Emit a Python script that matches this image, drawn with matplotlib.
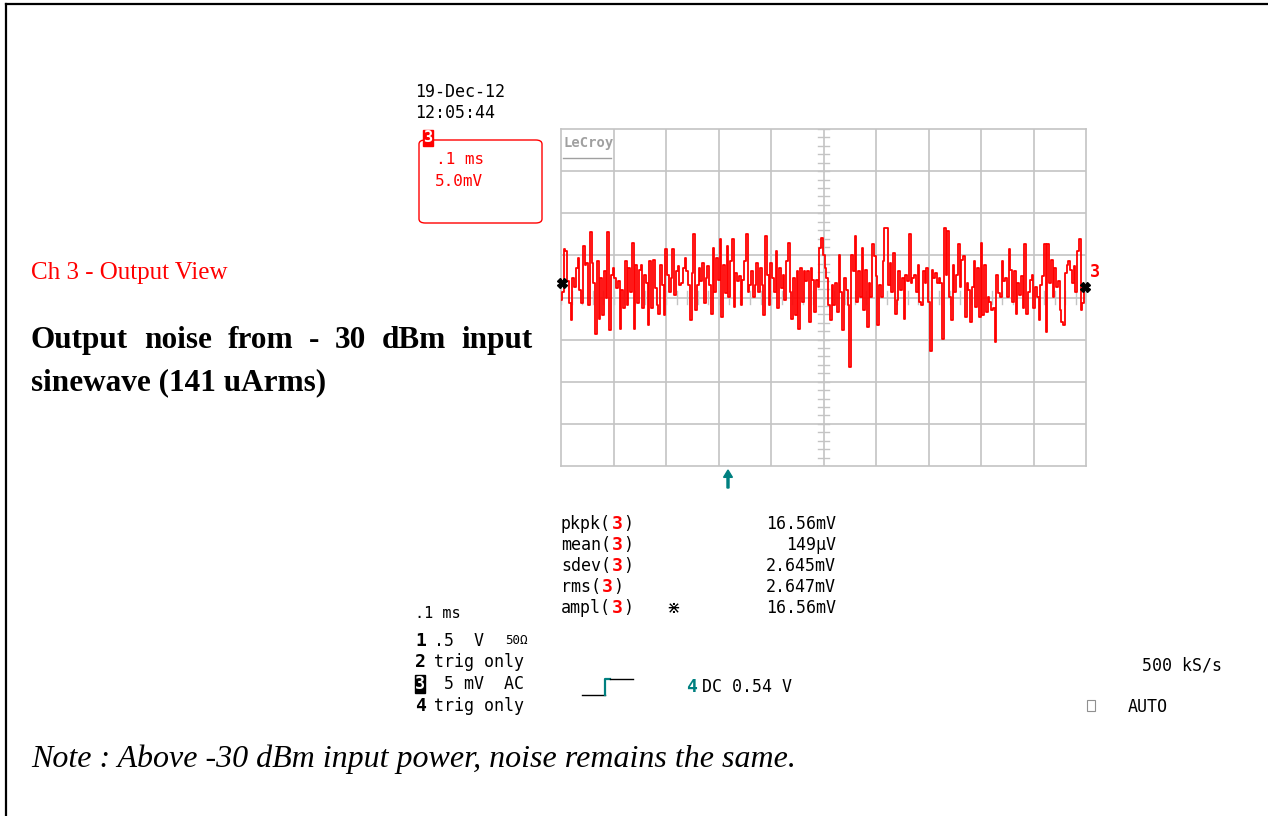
import numpy as np
import matplotlib
matplotlib.use('Agg')
import matplotlib.pyplot as plt
from matplotlib.patches import FancyBboxPatch, Rectangle, FancyArrow
from matplotlib.lines import Line2D

W, H = 1268, 816

# trace samples, in mV relative to screen centre (5 mV/div)
seg1 = [-0.3, 0.7, 5.7, 5.5, 1.9, -0.7, -2.7, 2.3, 1.3, 3.5, 4.7, 0.9, -0.7, 6.1, 3.9, 4.1,
        -0.9, 7.8, 4.1, 1.7, -4.3, 4.3, -2.5, 2.3, -2.1, 3.1, -0.1, 7.8, -3.9, 2.7, 3.5, 2.3,
        1.1, 1.9, -3.7, 0.9, -1.3, 4.3, -0.9, 3.5, 0.7, 6.5, -3.7, 3.9, -0.7, 3.3, 3.9, -1.3,
        2.7, 1.7, -3.3, 4.3, -1.3, 4.5, 1.1, -0.9, -1.9, 3.9, 1.5, -2.1, 5.7, 2.7, 0.7, 2.3,
        5.7, 0.3, 3.1, 3.7, 1.5]
seg2 = [1.7, 3.5, 4.7, 3.1, 1.5, -2.7, 2.9, 7.5, -1.5, 1.5, 3.5, 1.9, 4.1, -0.7, 2.3, 3.7,
        1.5, -1.9, 5.9, 0.7, 4.7, 2.1, 6.9, -2.3, 3.9, 0.5, 6.1, 0.1, 4.3, 6.9, -1.1, 2.9,
        1.9, 2.5, -0.9, 2.1, 4.3, 7.5, 0.7, 1.5, 3.1, 0.1, 1.5, 4.1, 0.7, 3.5, 1.5, -2.1,
        7.3, 2.7, -0.9, 4.1, 2.3, 0.7, 5.5, -1.3, 3.5, 1.1, 2.7, -0.3, 4.3, 6.5, 0.7, -2.5,
        2.3, -2.1, 3.1, -3.7, 3.5, -0.5, 3.1, 1.9]
seg3 = [3.1, -2.9, 3.5, 2.1, -1.7, 2.1, 1.3, 5.9, 7.1, 5.1, 3.5, 2.3, -0.9, -2.7, 1.5, -0.9,
        1.7, -1.7, 5.1, 0.7, -3.9, 2.3, 0.9, -0.9, -8.3, 5.1, 3.1, 7.3, -0.5, 3.1, 0.1, 5.9,
        -1.5, 3.3, -3.5, 1.7, 0.1, 6.3, 4.9, 2.5, -3.3, 1.5, 0.1, 4.3, 8.2, 8.3, 1.5, 4.1,
        0.7, 5.3, -1.9, -0.3, 3.1, 0.9, 2.3, -2.5, 2.7, 1.9, 7.5, 1.7, 2.3, 2.7, 0.7, 3.9,
        -0.5, -0.9, 3.1, 1.7, 3.5, -0.5, -6.3, 3.3, 2.3, 2.9, 1.7, 2.3, 1.7, -4.9, 8.3, 2.7]
seg4 = [7.9, 0.1, -2.7, 3.9, 0.7, 2.7, 6.3, 1.3, 4.5, 4.9, -2.3, 1.7, 0.9, -2.9, 1.3, 4.3,
        -1.1, 3.5, -2.3, 6.5, -2.1, 3.9, -1.7, 0.1, -0.5, -1.5, -1.3, -5.3, 2.7, 0.5, 0.1, 4.3,
        1.9, 2.3, 0.1, 5.7, 3.3, -0.5, 3.1, -1.9, 1.7, 0.3, 2.5, -1.3, 6.3, -1.9, 0.7, 2.1,
        2.7, -1.3, 1.3, 0.1, -2.7, 1.5, 2.5, 6.3, -4.1, 6.3, 1.7, 4.5, 0.1, 3.5, 1.3, 1.9,
        -1.5, -2.9, -3.3, 2.9, 3.9, 4.3, 3.3, 1.7, 3.7, 0.7, 5.5, 6.9, -1.5, -0.7, 1.3]
trace_mv = seg1 + seg2 + seg3 + seg4

meas_names = ['pkpk', 'mean', 'sdev', 'rms', 'ampl']
meas_values = ['16.56mV', '149µV', '2.645mV', '2.647mV', '16.56mV']

chan_ids = ['1', '2', '3', '4']
chan_text = [' .5  V', ' trig only', '  5 mV  AC', ' trig only']

volts_per_div = 5.0
n_xdiv, n_ydiv = 10, 8

MONO = 'DejaVu Sans Mono'
SERIF = 'Liberation Serif'
TEAL = '#008080'
GRID = '#c4c4c4'


def fx(x):
    return x / W


def fy(y):
    return 1 - y / H


fig = plt.figure(figsize=(W / 100, H / 100), dpi=100)

# outer frame (only left and top edges fall inside the image)
fig.add_artist(Line2D([fx(6), fx(6)], [fy(4), 0], color='black', lw=1.6))
fig.add_artist(Line2D([fx(6), 1], [fy(4), fy(4)], color='black', lw=1.6))

# scope graticule
ax = fig.add_axes([fx(561), fy(466), (1086 - 561) / W, (466 - 129) / H])
ax.set_xlim(0, n_xdiv)
ax.set_ylim(-volts_per_div * n_ydiv / 2, volts_per_div * n_ydiv / 2)
ax.set_xticks([])
ax.set_yticks([])
for s in ax.spines.values():
    s.set_color(GRID)
    s.set_linewidth(1.2)
for i in range(1, n_xdiv):
    ax.axvline(i, color=GRID, lw=1.2, zorder=1)
for j in range(1, n_ydiv):
    ax.axhline(-20 + j * volts_per_div, color=GRID, lw=1.2, zorder=1)
# minor ticks on the centre cross
for k in range(n_xdiv * 5 + 1):
    xv = k / 5
    ax.plot([xv, xv], [-0.8, 0.8], color=GRID, lw=1.0, zorder=1)
for k in range(n_ydiv * 5 + 1):
    yv = -20 + k * 1.0
    ax.plot([4.89, 5.11], [yv, yv], color=GRID, lw=1.0, zorder=1)

t = np.linspace(0, n_xdiv - 0.02, len(trace_mv))
ax.plot(t, trace_mv, color='red', lw=1.3, drawstyle='steps-mid', zorder=3)

# ground / channel markers
ax.plot([0.02], [1.75], marker='X', color='black', markersize=7, clip_on=False, zorder=4)
ax.plot([9.98], [1.3], marker='X', color='black', markersize=7, clip_on=False, zorder=4)
ax.text(10.08, 3.0, '3', color='red', fontsize=12, fontweight='bold', family=MONO,
        ha='left', va='center', clip_on=False)

ax.text(0.04, 19.2, 'LeCroy', color='#a0a0a0', fontsize=10, fontweight='bold',
        family=MONO, ha='left', va='top')
ax.plot([0.04, 0.95], [16.6, 16.6], color='#a0a0a0', lw=1.0)

# trigger arrow under the graticule
fig.add_artist(FancyArrow(fx(728), fy(488), 0, 18 / H,
                          width=0.0016, head_width=0.007, head_length=0.009,
                          color=TEAL, length_includes_head=True,
                          transform=fig.transFigure))

# date / time
fig.text(fx(415), fy(92), '19-Dec-12', family=MONO, fontsize=12, va='center')
fig.text(fx(415), fy(113), '12:05:44', family=MONO, fontsize=12, va='center')

# channel 3 box
box = FancyBboxPatch((fx(419), fy(223)), (542 - 419) / W, (223 - 140) / H,
                     boxstyle='round,pad=0,rounding_size=0.005', transform=fig.transFigure,
                     fill=False, edgecolor='red', lw=1.0)
fig.add_artist(box)
fig.text(fx(428), fy(138), '3', family=MONO, fontsize=11, fontweight='bold', color='white',
         ha='center', va='center',
         bbox=dict(boxstyle='square,pad=0.05', facecolor='red', edgecolor='red'))
fig.text(fx(436), fy(160), '.1 ms', family=MONO, fontsize=11.5, color='red', va='center')
fig.text(fx(435), fy(182), '5.0mV', family=MONO, fontsize=11.5, color='red', va='center')

# left side captions
fig.text(fx(31), fy(273), 'Ch 3 - Output View', family=SERIF, fontsize=18, color='red',
         va='center')

renderer = fig.canvas.get_renderer()
words = ['Output', 'noise', 'from', '-', '30', 'dBm', 'input']
wtexts = [fig.text(0, fy(340), w, family=SERIF, fontsize=22.5, fontweight='bold', va='center')
          for w in words]
widths = [tt.get_window_extent(renderer).width for tt in wtexts]
gap = (533 - 31 - sum(widths)) / (len(words) - 1)
xpos = 31
for tt, wd in zip(wtexts, widths):
    tt.set_x(fx(xpos))
    xpos += wd + gap
fig.text(fx(31), fy(383), 'sinewave (141 uArms)', family=SERIF, fontsize=22.5,
         fontweight='bold', va='center')

# measurement table
row_y = [524, 545, 566, 587, 608]
cw = 10.2
for name, val, yy in zip(meas_names, meas_values, row_y):
    fig.text(fx(561), fy(yy), name + '(', family=MONO, fontsize=12, va='center')
    x3 = 561 + cw * (len(name) + 1)
    fig.text(fx(x3), fy(yy), '3', family=MONO, fontsize=13, fontweight='bold', color='red',
             va='center')
    fig.text(fx(x3 + cw + 1), fy(yy), ')', family=MONO, fontsize=12, va='center')
    fig.text(fx(836), fy(yy), val, family=MONO, fontsize=12, va='center', ha='right')
fig.text(fx(666), fy(608), '⋇', family='DejaVu Sans', fontsize=12, va='center')

fig.text(fx(415), fy(613), '.1 ms', family=MONO, fontsize=11, va='center')

# channel settings list
chan_y = [641, 662, 684, 706]
for cid, txt, yy in zip(chan_ids, chan_text, chan_y):
    if cid == '3':
        fig.text(fx(415), fy(yy), cid, family=MONO, fontsize=12, fontweight='bold',
                 color='white', va='center',
                 bbox=dict(boxstyle='square,pad=0.02', facecolor='black', edgecolor='black'))
    else:
        fig.text(fx(415), fy(yy), cid, family=MONO, fontsize=13, fontweight='bold',
                 va='center')
    fig.text(fx(424), fy(yy), txt, family=MONO, fontsize=12, va='center')
fig.text(fx(505), fy(641), '50Ω', family=MONO, fontsize=9, va='center')

# trigger symbol
fig.add_artist(Line2D([fx(582), fx(605)], [fy(695), fy(695)], color='black', lw=1.0))
fig.add_artist(Line2D([fx(605), fx(605), fx(610)], [fy(695), fy(679), fy(679)],
                      color=TEAL, lw=1.6))
fig.add_artist(Line2D([fx(610), fx(633)], [fy(679), fy(679)], color='black', lw=1.0))
fig.text(fx(686), fy(687), '4', family=MONO, fontsize=13, fontweight='bold', color=TEAL,
         va='center')
fig.text(fx(702), fy(687), 'DC 0.54 V', family=MONO, fontsize=12, va='center')

fig.text(fx(1222), fy(665), '500 kS/s', family=MONO, fontsize=12, va='center', ha='right')
fig.add_artist(Rectangle((fx(1087), fy(711)), 8 / W, 11 / H, transform=fig.transFigure,
                         fill=False, edgecolor='#909090', lw=0.8))
fig.text(fx(1128), fy(707), 'AUTO', family=MONO, fontsize=12, va='center')

fig.text(fx(31), fy(759), 'Note : Above -30 dBm input power, noise remains the same.',
         family=SERIF, fontsize=23, style='italic', va='center')

fig.savefig('out.png', dpi=100)
